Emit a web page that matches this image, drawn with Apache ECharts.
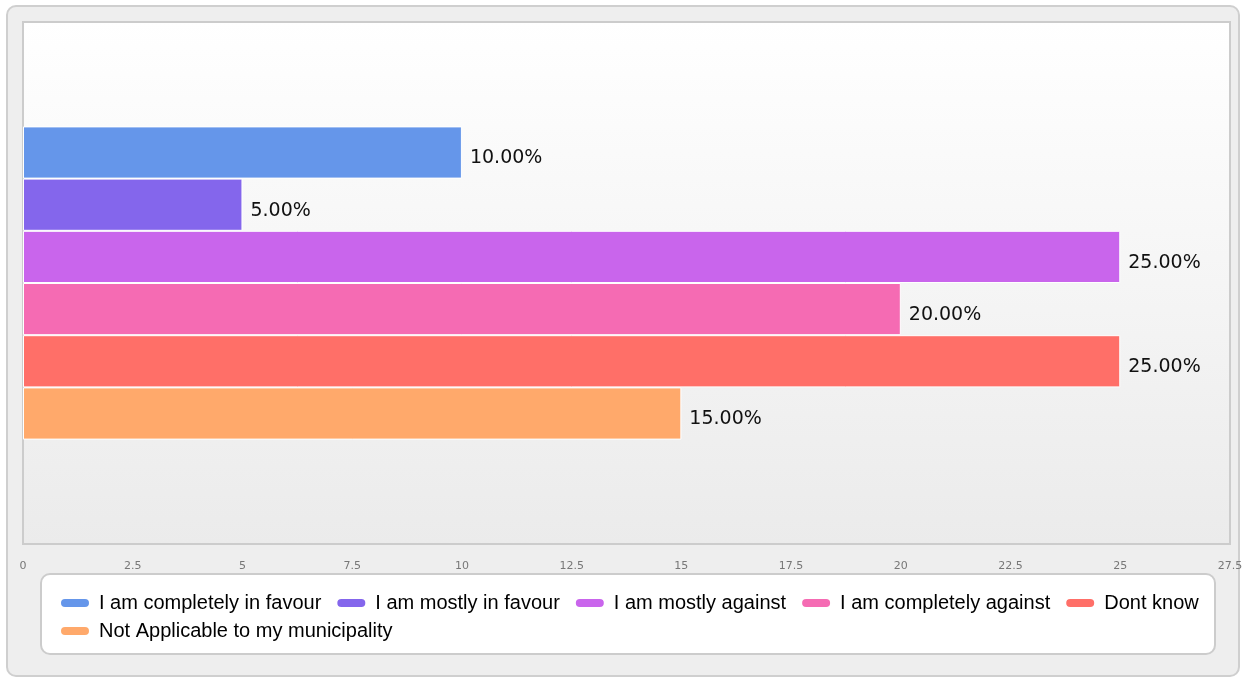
<!DOCTYPE html>
<html>
<head>
<meta charset="utf-8">
<script src="https://cdn.jsdelivr.net/npm/echarts@6/dist/echarts.min.js"></script>
<style>
    html, body { margin: 0; padding: 0; background: #fff; }
    #frame {
        position: absolute; left: 6px; top: 5px; width: 1230px; height: 668px;
        border: 2px solid #cfcfcf; border-radius: 10px; background: #eeeeee;
    }
    #main { position: absolute; left: 0; top: 0; width: 1246px; height: 679px; }
</style>
</head>
<body>
<div id="frame"></div>
<div id="main"></div>
<script>
// 各选项及其百分比
var seriesNames = [
    'I am completely in favour',
    'I am mostly in favour',
    'I am mostly against',
    'I am completely against',
    'Dont know',
    'Not Applicable to my municipality'
];
var seriesValues = [10, 5, 25, 20, 25, 15];
var seriesColors = ['#6596ea', '#8466ec', '#c965ec', '#f56bb3', '#ff6f68', '#ffa96b'];
var categories = [''];

var chart = echarts.init(document.getElementById('main'));

var series = [];
seriesNames.forEach(function (name, i) {
    series.push({
        name: name,
        type: 'bar',
        data: [seriesValues[i]],
        barGap: '0%',
        barCategoryGap: '40%',
        itemStyle: {
            color: seriesColors[i],
            borderColor: '#ffffff',
            borderWidth: 1
        },
        label: {
            show: true,
            position: 'right',
            distance: 8,
            offset: [0, 6],
            fontFamily: 'DejaVu Sans',
            fontSize: 19,
            color: '#111',
            formatter: function (p) {
                return p.value.toFixed(2) + '%';
            }
        }
    });
});

// 胶囊形图例图标
var pill = 'path://M5,0 H25 A5,5 0 0 1 25,10 H5 A5,5 0 0 1 5,0 Z';
var legendCommon = {
    orient: 'horizontal',
    padding: 0,
    itemGap: 14,
    itemWidth: 30,
    itemHeight: 10,
    icon: pill,
    textStyle: {
        fontFamily: 'Liberation Sans',
        fontSize: 20,
        color: '#000',
        padding: [0, 0, 0, 4]
    }
};

var option = {
    animation: false,
    grid: {
        left: 23,
        right: 16,
        top: 22,
        bottom: 135,
        show: true,
        borderColor: '#cccccc',
        borderWidth: 2,
        backgroundColor: new echarts.graphic.LinearGradient(0, 0, 0, 1, [
            { offset: 0, color: '#ffffff' },
            { offset: 1, color: '#ebebeb' }
        ])
    },
    graphic: [{
        type: 'rect',
        z: -1,
        shape: { x: 41, y: 574, width: 1174, height: 80, r: 9 },
        style: { fill: '#ffffff', stroke: '#cccccc', lineWidth: 2 }
    }],
    xAxis: {
        type: 'value',
        min: 0,
        max: 27.5,
        interval: 2.5,
        axisLine: { show: false },
        axisTick: { show: false },
        splitLine: { show: false },
        axisLabel: {
            margin: 17,
            fontFamily: 'DejaVu Sans',
            fontSize: 11,
            color: '#777'
        }
    },
    yAxis: {
        type: 'category',
        data: categories,
        inverse: true,
        show: false
    },
    legend: [
        Object.assign({}, legendCommon, {
            data: seriesNames.slice(0, 5),
            left: 59,
            top: 593
        }),
        Object.assign({}, legendCommon, {
            data: seriesNames.slice(5),
            left: 59,
            top: 621
        })
    ],
    series: series
};
chart.setOption(option);
</script>
</body>
</html>
